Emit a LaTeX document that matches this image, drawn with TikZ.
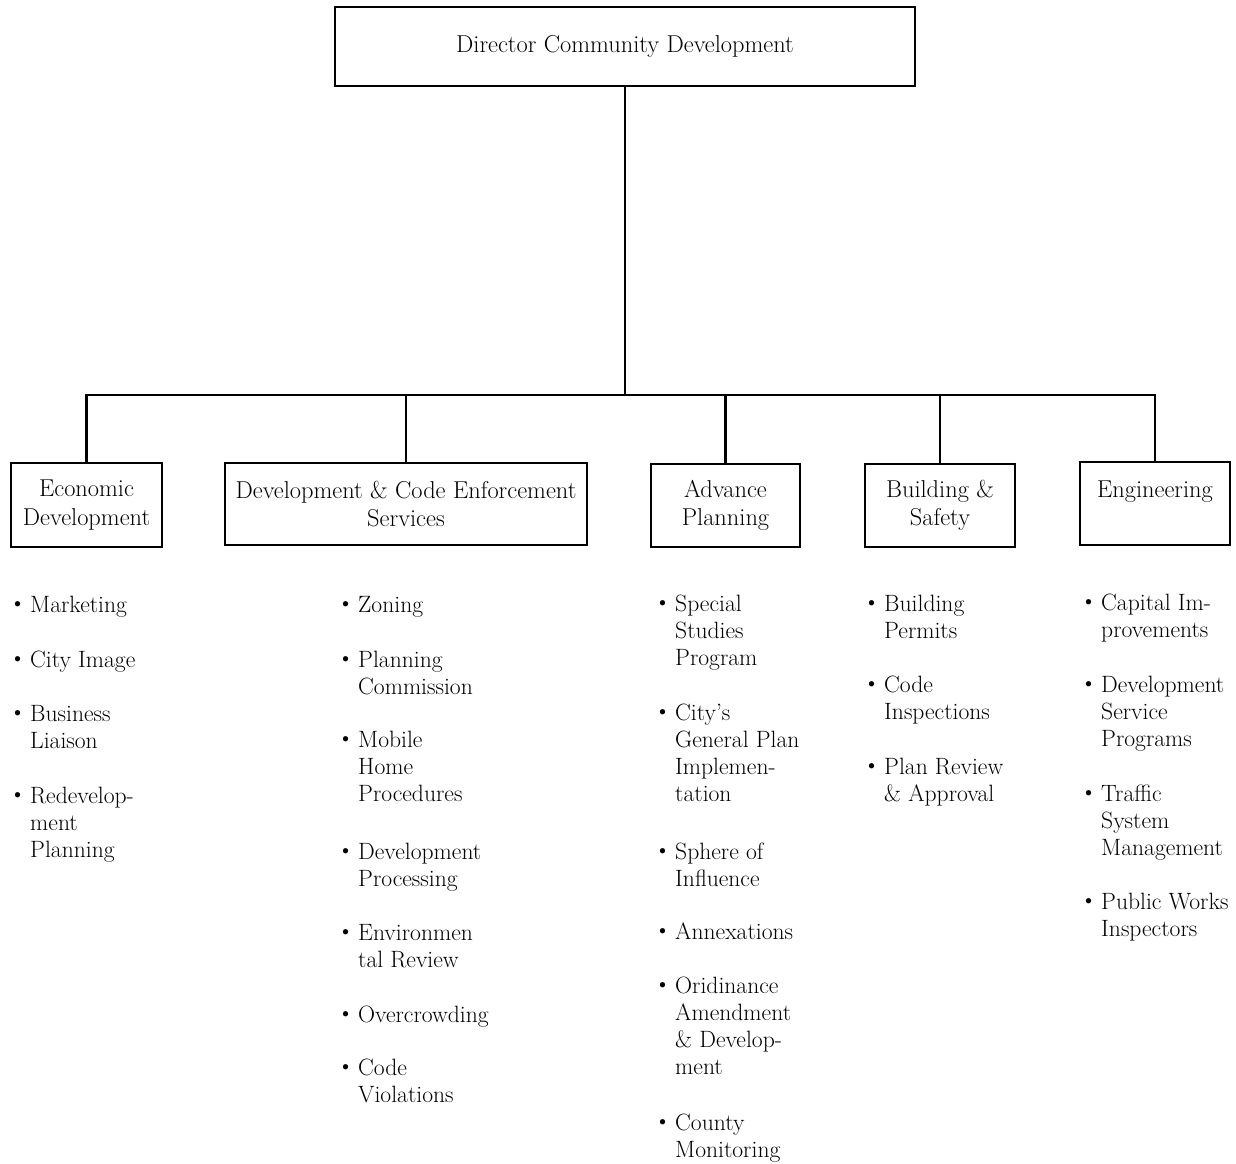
\documentclass[tikz,border=0pt]{standalone}
\usetikzlibrary{calc}
\tikzset{
  unit box/.style={draw, line width=2.2pt, align=center, inner sep=2pt,
    font=\fontsize{24.4}{28.5}\selectfont},
  conn/.style={line width=2.2pt},
  item/.style={anchor=base west, inner sep=0pt, font=\fontsize{23.6}{27}\selectfont}
}
\newcommand{\bul}{\llap{\raisebox{1.5pt}{\textbullet}\hspace{4pt}}}
\newcommand{\itm}[1]{\begin{tabular}[t]{@{}l@{}}#1\end{tabular}}
\begin{document}
\begin{tikzpicture}[x=1pt,y=-1pt]
\useasboundingbox (0,0) rectangle (1236,1163);
% boxes
\node[unit box, minimum width=580pt, minimum height=79pt] (top) at (625,46.5) {Director Community Development};
\node[unit box, minimum width=151pt, minimum height=84pt] (econ) at (86.5,505) {Economic\\Development};
\node[unit box, minimum width=362pt, minimum height=82pt] (dce) at (406,504) {Development \& Code Enforcement\\Services};
\node[unit box, minimum width=149pt, minimum height=83pt] (adv) at (725.5,505.5) {Advance\\Planning};
\node[unit box, minimum width=150pt, minimum height=83pt] (bld) at (940,505.5) {Building \&\\Safety};
\node[unit box, minimum width=150pt, minimum height=83pt] (eng) at (1155,503.5) {Engineering\\\mbox{}};
% connectors
\coordinate (bus) at (625,395);
\draw[conn] (top.south) -- (bus);
\draw[conn] (econ.north) |- (bus) -| (eng.north);
\draw[conn] (dce.north) -- (dce.north |- bus);
\draw[conn] (adv.north) -- (adv.north |- bus);
\draw[conn] (bld.north) -- (bld.north |- bus);
% Economic Development list
\node[item] (e1) at (30,612) {\bul\itm{Marketing}};
\node[item] (e2) at (30,667) {\bul\itm{City Image}};
\node[item] (e3) at (30,721) {\bul\itm{Business\\Liaison}};
\node[item] (e4) at (30,803) {\bul\itm{Redevelop-\\ment\\Planning}};
% Development & Code Enforcement list
\node[item] (d1) at (358,612) {\bul\itm{Zoning}};
\node[item] (d2) at (358,667) {\bul\itm{Planning\\Commission}};
\node[item] (d3) at (358,747) {\bul\itm{Mobile\\Home\\Procedures}};
\node[item] (d4) at (358,859) {\bul\itm{Development\\Processing}};
\node[item] (d5) at (358,940) {\bul\itm{Environmen\\tal Review}};
\node[item] (d6) at (358,1022) {\bul\itm{Overcrowding}};
\node[item] (d7) at (358,1075) {\bul\itm{Code\\Violations}};
% Advance Planning list
\node[item] (a1) at (675,611) {\bul\itm{Special\\Studies\\Program}};
\node[item] (a2) at (675,720) {\bul\itm{City's\\General Plan\\Implemen-\\tation}};
\node[item] (a3) at (675,859) {\bul\itm{Sphere of\\Influence}};
\node[item] (a4) at (675,939) {\bul\itm{Annexations}};
\node[item] (a5) at (675,993) {\bul\itm{Oridinance\\Amendment\\\& Develop-\\ment}};
\node[item] (a6) at (675,1130) {\bul\itm{County\\Monitoring}};
% Building & Safety list
\node[item] (b1) at (884,611) {\bul\itm{Building\\Permits}};
\node[item] (b2) at (884,692) {\bul\itm{Code\\Inspections}};
\node[item] (b3) at (884,774) {\bul\itm{Plan Review\\\& Approval}};
% Engineering list
\node[item] (g1) at (1101,610) {\bul\itm{Capital Im-\\provements}};
\node[item] (g2) at (1101,692) {\bul\itm{Development\\Service\\Programs}};
\node[item] (g3) at (1101,801) {\bul\itm{Traffic\\System\\Management}};
\node[item] (g4) at (1101,909) {\bul\itm{Public Works\\Inspectors}};
\end{tikzpicture}
\end{document}
